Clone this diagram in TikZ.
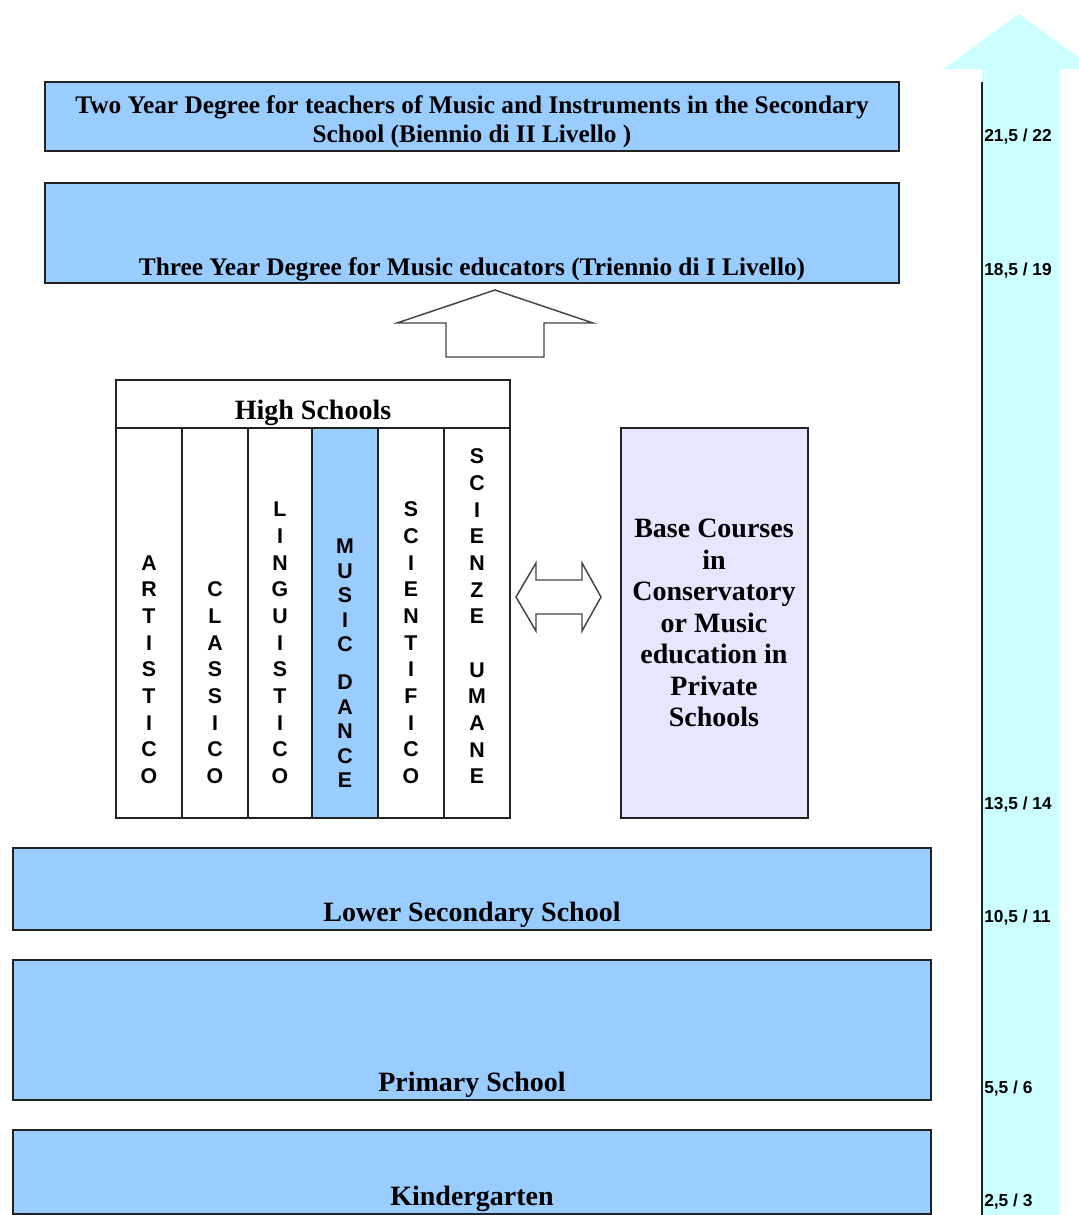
\documentclass[tikz,border=0pt]{standalone}
\usepackage{fontspec}
\setmainfont{Liberation Serif}
\setsansfont{Liberation Sans}
\usetikzlibrary{fit}
\definecolor{boxblue}{HTML}{99CCFF}
\definecolor{arrowcyan}{HTML}{CCFFFF}
\definecolor{lavbox}{HTML}{E6E6FF}
\definecolor{edgecol}{HTML}{222222}
\definecolor{arrline}{HTML}{444444}
\begin{document}
\begin{tikzpicture}[x=0.75pt,y=-0.75pt,
  bluebox/.style={draw=edgecol,line width=1.3pt,fill=boxblue,inner sep=0pt},
  plainbox/.style={draw=edgecol,line width=1.3pt,inner sep=0pt},
  lavenderbox/.style={draw=edgecol,line width=1.3pt,fill=lavbox,inner sep=0pt},
  bigtxt/.style={font=\bfseries\fontsize{21}{24}\selectfont,inner sep=0pt},
  toptxt/.style={font=\bfseries\fontsize{19}{22}\selectfont,inner sep=0pt,align=center},
  basetxt/.style={font=\bfseries\fontsize{21}{23.6}\selectfont,inner sep=0pt,align=center},
  vert/.style={font=\sffamily\bfseries\fontsize{16}{20}\selectfont,inner sep=0pt,align=center,anchor=south},
  vertm/.style={font=\sffamily\bfseries\fontsize{16}{18.4}\selectfont,inner sep=0pt,align=center,anchor=south},
  agetxt/.style={font=\sffamily\bfseries\fontsize{13}{15}\selectfont,inner sep=0pt,anchor=base west},
  blockarrow/.style={draw=arrline,line width=1.1pt,fill=white,line join=miter}
]
\useasboundingbox (0,0) rectangle (1079,1215);
\clip (0,0) rectangle (1079,1215);
\fill[white] (0,0) rectangle (1079,1215);

% big age arrow
\fill[arrowcyan] (982,1230) -- (982,69) -- (943,69) -- (1019,14) -- (1095,69) -- (1059,69) -- (1059,1230) -- cycle;
\coordinate (agetop) at (982,82);
\coordinate (agebot) at (982,1220);
\draw[edgecol,line width=1.3pt] (agetop) -- (agebot);

% age labels
\node[agetxt] (a22) at (984,141) {21,5 / 22};
\node[agetxt] (a19) at (984,275) {18,5 / 19};
\node[agetxt] (a14) at (984,809) {13,5 / 14};
\node[agetxt] (a11) at (984,922) {10,5 / 11};
\node[agetxt] (a6) at (984,1093) {5,5 / 6};
\node[agetxt] (a3) at (984,1206) {2,5 / 3};

% top degree boxes
\node[bluebox,fit={(45,82) (899,151)}] (two) {};
\node[toptxt] (twoT) at (472,122) {Two Year Degree for teachers of Music and Instruments in the Secondary\\School (Biennio di II Livello )};
\node[bluebox,fit={(45,183) (899,283)}] (three) {};
\node[toptxt,anchor=base] (threeT) at (472,275) {Three Year Degree for Music educators (Triennio di I Livello)};

% up block arrow
\draw[blockarrow] (495,290) -- (593,323) -- (544,323) -- (544,357) -- (446,357) -- (446,323) -- (397,323) -- cycle;

% high schools
\node[plainbox,fit={(116,380) (510,818)}] (hs) {};
\fill[boxblue] (312,428) rectangle (378,818);
\draw[edgecol,line width=1.3pt] (116,428) -- (510,428);
\foreach \xx in {182,248,312,378,444}{
  \draw[edgecol,line width=1.3pt] (\xx,428) -- (\xx,818);
}
\draw[edgecol,line width=1.3pt] (116,380) rectangle (510,818);
\node[bigtxt,anchor=base] (hsT) at (313,419) {High Schools};

\node[vert] (art) at (149,784) {A\\R\\T\\I\\S\\T\\I\\C\\O};
\node[vert] (cla) at (215,784) {C\\L\\A\\S\\S\\I\\C\\O};
\node[vert] (lin) at (280,784) {L\\I\\N\\G\\U\\I\\S\\T\\I\\C\\O};
\node[vertm] (mus) at (345,788) {M\\U\\S\\I\\C\\[10pt]D\\A\\N\\C\\E};
\node[vert] (sci) at (411,784) {S\\C\\I\\E\\N\\T\\I\\F\\I\\C\\O};
\node[vert] (scu) at (477,784) {S\\C\\I\\E\\N\\Z\\E\\ \\U\\M\\A\\N\\E};

% double arrow
\draw[blockarrow] (516,597) -- (536,563) -- (536,580) -- (582,580) -- (582,563) -- (601,597) -- (582,631) -- (582,614) -- (536,614) -- (536,631) -- cycle;

% base courses
\node[lavenderbox,fit={(621,428) (808,818)}] (base) {};
\node[basetxt] (baseT) at (714,623) {Base Courses\\in\\Conservatory\\or Music\\education in\\Private\\Schools};

% lower boxes
\node[bluebox,fit={(13,848) (931,930)}] (lower) {};
\node[bigtxt,anchor=base] (lowerT) at (472,921) {Lower Secondary School};
\node[bluebox,fit={(13,960) (931,1100)}] (prim) {};
\node[bigtxt,anchor=base] (primT) at (472,1091) {Primary School};
\node[bluebox,fit={(13,1130) (931,1214)}] (kind) {};
\node[bigtxt,anchor=base] (kindT) at (472,1205) {Kindergarten};
\end{tikzpicture}
\end{document}
